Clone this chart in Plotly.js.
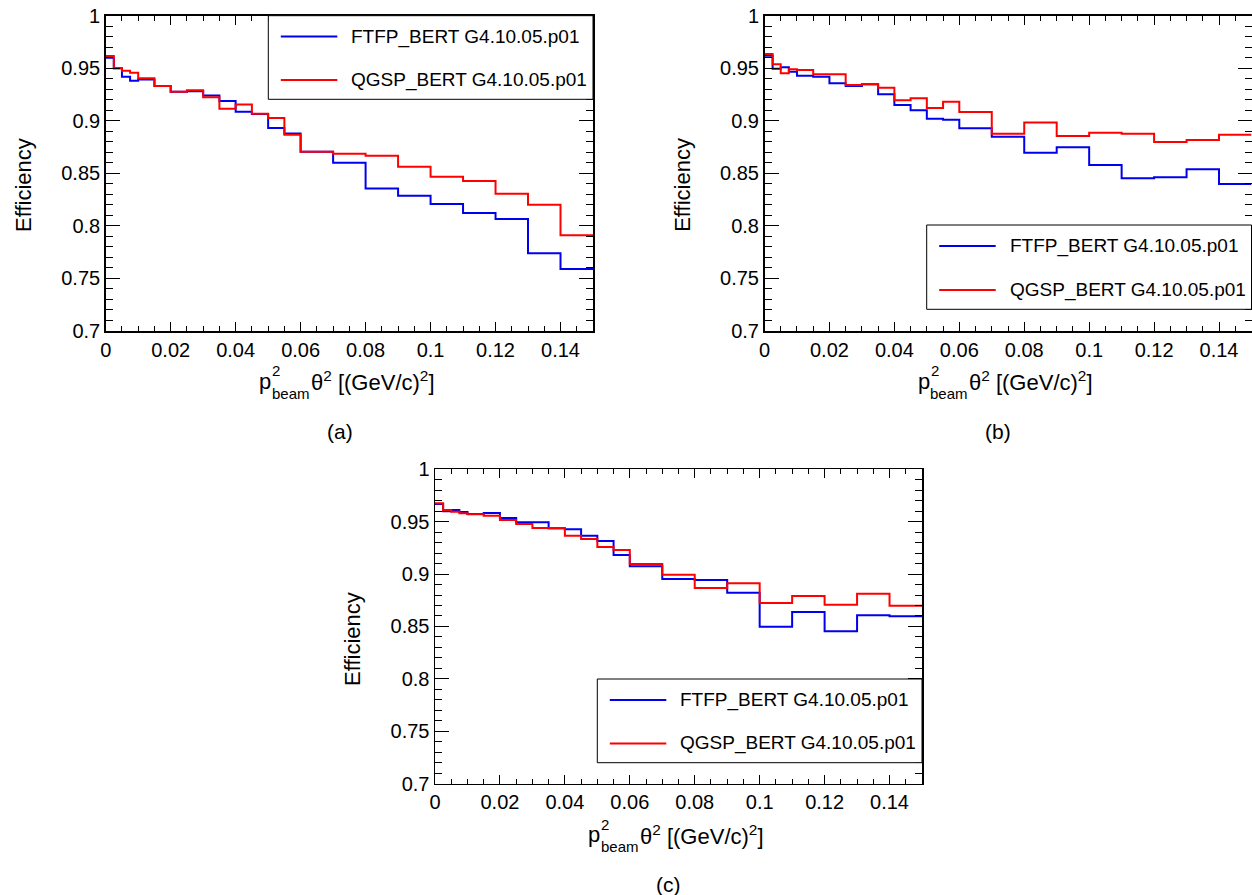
<!DOCTYPE html>
<html>
<head>
<meta charset="utf-8">
<script src="https://cdn.plot.ly/plotly-3.0.1.min.js"></script>
<style>html,body{margin:0;padding:0;background:#fff;}#chart{width:1252px;height:895px;}</style>
</head>
<body>
<div id="chart"></div>
<script>
// ---- data ----
var binEdges = [0,0.0025,0.005,0.0075,0.01,0.015,0.02,0.025,0.03,0.035,0.04,0.045,0.05,0.055,0.06,0.07,0.08,0.09,0.1,0.11,0.12,0.13,0.14,0.15];
var seriesNames = ["FTFP_BERT G4.10.05.p01", "QGSP_BERT G4.10.05.p01"];
var panelLabels = ["(a)", "(b)", "(c)"];
var ftfpA = [0.960,0.950,0.942,0.938,0.9394,0.933,0.9277,0.928,0.924,0.9188,0.9087,0.9064,0.8931,0.888,0.8706,0.8601,0.8357,0.8287,0.8208,0.8123,0.8066,0.774,0.759];
var qgspA = [0.9616,0.950,0.9477,0.9458,0.9404,0.933,0.9277,0.929,0.9223,0.9115,0.9156,0.9068,0.9026,0.8868,0.8706,0.8687,0.8668,0.8563,0.8468,0.8427,0.8306,0.8202,0.791];
var ftfpB = [0.962,0.9496,0.9509,0.9467,0.9429,0.942,0.9357,0.9331,0.9347,0.9252,0.915,0.91,0.902,0.901,0.8929,0.8849,0.8697,0.8748,0.858,0.8453,0.8462,0.8538,0.8399];
var qgspB = [0.9636,0.9537,0.9452,0.949,0.9483,0.9442,0.9442,0.934,0.9347,0.9315,0.9195,0.9214,0.9122,0.9182,0.9084,0.8877,0.8985,0.8855,0.8887,0.8877,0.8798,0.8817,0.8868];
var ftfpC = [0.967,0.96,0.9612,0.9593,0.9574,0.9583,0.9536,0.9495,0.9495,0.9437,0.9428,0.9367,0.9316,0.9182,0.9074,0.8953,0.8944,0.8822,0.8498,0.8638,0.8454,0.8606,0.8597];
var qgspC = [0.9676,0.9612,0.9596,0.958,0.9571,0.9558,0.9517,0.9479,0.944,0.9437,0.9367,0.9335,0.9259,0.923,0.9096,0.8994,0.8867,0.8912,0.8724,0.8791,0.8708,0.8813,0.8698];
var yTitle = "Efficiency";

// ---- layout helpers ----
var W = 1252, H = 895;
function px(x){ return x / W; }
function py(y){ return 1 - y / H; }
var FONT = "Liberation Sans, Arial, Helvetica, sans-serif";
var BLUE = "#0000ee", RED = "#ff0000";

// panel frames in page pixels: [left, right, top, bottom]
var frames = [
  [105.7, 593.0, 15.7, 331.0],
  [764.5, 1251.5, 15.7, 331.0],
  [435.0, 922.0, 469.4, 783.5]
];
var legendBoxes = [
  [268.3, 593.0, 15.7, 99.3],
  [926.7, 1251.5, 225.0, 309.3],
  [597.3, 922.0, 679.0, 762.7]
];
var panelData = [[ftfpA, qgspA], [ftfpB, qgspB], [ftfpC, qgspC]];
var labelPos = [[339.5, 431], [998, 431], [668, 884]];

function stepY(vals){ return vals.concat([vals[vals.length-1]]); }

var traces = [];
var layout = {
  width: W, height: H,
  margin: {l:0, r:0, t:0, b:0},
  paper_bgcolor: "#fff", plot_bgcolor: "#fff",
  showlegend: false,
  font: {family: FONT, color: "#000"},
  shapes: [], annotations: []
};

panelData.forEach(function(pd, i){
  var sfx = i === 0 ? "" : String(i+1);
  var xa = "x" + sfx, ya = "y" + sfx;
  var colors = [BLUE, RED];
  pd.forEach(function(vals, k){
    traces.push({
      type: "scatter", mode: "lines",
      x: binEdges, y: stepY(vals),
      xaxis: xa, yaxis: ya,
      line: {shape: "hv", color: colors[k], width: 2},
      name: seriesNames[k], hoverinfo: "x+y+name"
    });
  });
  var f = frames[i];
  layout["xaxis" + sfx] = {
    domain: [px(f[0]), px(f[1])], anchor: ya,
    range: [0, 0.15], tick0: 0, dtick: 0.02,
    ticks: "inside", ticklen: 9, tickwidth: 1, tickcolor: "#000",
    minor: {ticks: "inside", dtick: 0.005, tick0: 0, ticklen: 5, tickwidth: 1, tickcolor: "#000"},
    showline: true, linecolor: "#000", linewidth: 1.5, mirror: "ticks",
    showgrid: false, zeroline: false,
    tickfont: {family: FONT, size: 20, color: "#000"}
  };
  layout["yaxis" + sfx] = {
    domain: [py(f[3]), py(f[2])], anchor: xa,
    range: [0.7, 1], tick0: 0.7, dtick: 0.05,
    ticks: "inside", ticklen: 14, tickwidth: 1, tickcolor: "#000",
    minor: {ticks: "inside", dtick: 0.01, tick0: 0.7, ticklen: 7, tickwidth: 1, tickcolor: "#000"},
    showline: true, linecolor: "#000", linewidth: 1.5, mirror: "ticks",
    showgrid: false, zeroline: false,
    tickfont: {family: FONT, size: 20, color: "#000"}
  };

  // legend box
  var lb = legendBoxes[i];
  layout.shapes.push({type: "rect", xref: "paper", yref: "paper", layer: "above",
    x0: px(lb[0]), x1: px(lb[1]), y0: py(lb[3]), y1: py(lb[2]),
    line: {color: "#000", width: 1}, fillcolor: "#fff"});
  var rowY = [lb[2] + (lb[3]-lb[2])*0.25, lb[2] + (lb[3]-lb[2])*0.77];
  var lx0 = lb[0] + 12.5, lx1 = lb[0] + 69, tx = lb[0] + 81;
  for (var k = 0; k < 2; k++){
    layout.shapes.push({type: "line", xref: "paper", yref: "paper", layer: "above",
      x0: px(lx0), x1: px(lx1), y0: py(rowY[k]), y1: py(rowY[k]),
      line: {color: colors[k], width: 2}});
    layout.annotations.push({xref: "paper", yref: "paper", x: px(tx), y: py(rowY[k]),
      xanchor: "left", yanchor: "middle", showarrow: false, text: seriesNames[k],
      font: {family: FONT, size: 19, color: "#000"}});
  }

  // y title
  var dx = f[0] - frames[0][0], dy = f[2] - frames[0][2];
  layout.annotations.push({xref: "paper", yref: "paper", x: px(23 + dx), y: py(185 + dy),
    xanchor: "center", yanchor: "middle", textangle: -90, showarrow: false, text: yTitle,
    font: {family: FONT, size: 22, color: "#000"}});
  // x title composed ROOT-style: p with stacked ^2 and _beam
  layout.annotations.push({xref: "paper", yref: "paper", x: px(257 + dx), y: py(381 + dy),
    xanchor: "left", yanchor: "middle", showarrow: false, text: "p",
    font: {family: FONT, size: 22, color: "#000"}});
  layout.annotations.push({xref: "paper", yref: "paper", x: px(270 + dx), y: py(371 + dy),
    xanchor: "left", yanchor: "middle", showarrow: false, text: "2",
    font: {family: FONT, size: 15, color: "#000"}});
  layout.annotations.push({xref: "paper", yref: "paper", x: px(269.5 + dx), y: py(393 + dy),
    xanchor: "left", yanchor: "middle", showarrow: false, text: "beam",
    font: {family: FONT, size: 15, color: "#000"}});
  layout.annotations.push({xref: "paper", yref: "paper", x: px(308.5 + dx), y: py(381 + dy),
    xanchor: "left", yanchor: "middle", showarrow: false, text: "θ<sup>2</sup> [(GeV/c)<sup>2</sup>]",
    font: {family: FONT, size: 22, color: "#000"}});
  // panel label
  layout.annotations.push({xref: "paper", yref: "paper", x: px(labelPos[i][0]), y: py(labelPos[i][1]),
    xanchor: "center", yanchor: "middle", showarrow: false, text: panelLabels[i],
    font: {family: FONT, size: 21, color: "#000"}});
});

Plotly.newPlot("chart", traces, layout, {displayModeBar: false, staticPlot: true});
</script>
</body>
</html>
